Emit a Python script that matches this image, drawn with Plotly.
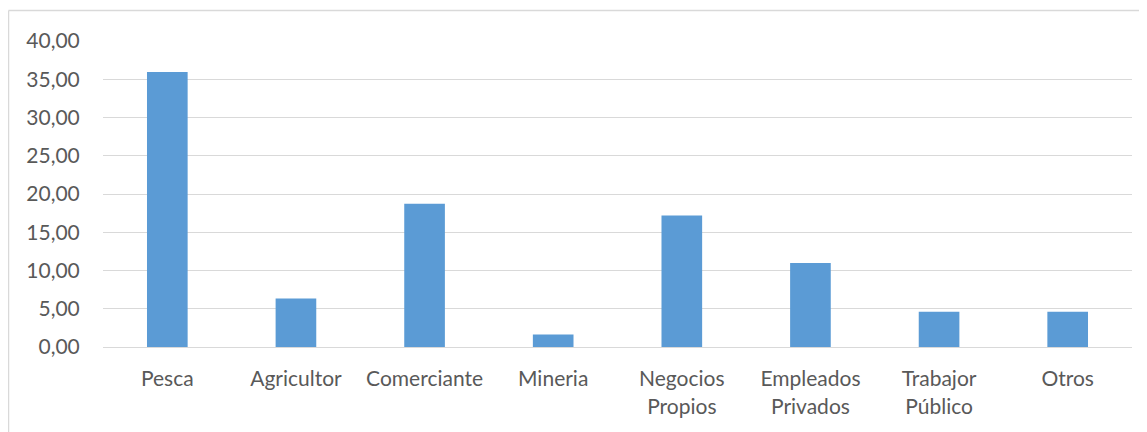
import plotly.graph_objects as go

categories = ["Pesca", "Agricultor", "Comerciante", "Mineria", "Negocios<br>Propios",
              "Empleados<br>Privados", "Trabajor<br>Público", "Otros"]
values = [35.95, 6.33, 18.74, 1.62, 17.2, 10.98, 4.62, 4.62]
y_ticks = [0, 5, 10, 15, 20, 25, 30, 35, 40]
y_tick_labels = ["0,00", "5,00", "10,00", "15,00", "20,00", "25,00", "30,00", "35,00", "40,00"]

# page body has an 8px margin, so the figure is drawn offset by 8px
OFF = 8
W, H = 1147 - OFF, 432 - OFF
L, R, T, B = 103 - OFF, 15, 41 - OFF, 85
pw, ph = W - L - R, H - T - B

fig = go.Figure(go.Bar(x=categories, y=values, marker=dict(color="#5B9BD5", line=dict(width=0))))

bx0 = (0.5 - L) / pw
bx1 = (W - L) / pw
by_top = (H - B - 2.5) / ph
by_bot = (H - B - H) / ph

fig.update_layout(
    width=W, height=H,
    margin=dict(l=L, r=R, t=T, b=B),
    paper_bgcolor="white", plot_bgcolor="white",
    bargap=0.684,
    showlegend=False,
    font=dict(family="Lato, Calibri, sans-serif", size=21, color="#595959"),
    xaxis=dict(showgrid=False, showline=False, zeroline=False,
               ticks="outside", ticklen=13, tickcolor="rgba(0,0,0,0)",
               tickfont=dict(size=21, color="#595959")),
    yaxis=dict(range=[0, 40], tickvals=y_ticks, ticktext=y_tick_labels,
               showgrid=True, gridcolor="#D9D9D9", gridwidth=1.3,
               zeroline=True, zerolinecolor="#D9D9D9", zerolinewidth=1.3,
               showline=False, ticks="outside", ticklen=18, tickcolor="rgba(0,0,0,0)",
               tickfont=dict(size=21, color="#595959")),
    shapes=[
        dict(type="line", xref="paper", yref="paper", x0=bx0, x1=bx1, y0=by_top, y1=by_top,
             line=dict(color="#D9D9D9", width=1.5), layer="below"),
        dict(type="line", xref="paper", yref="paper", x0=bx0, x1=bx0, y0=by_bot, y1=by_top,
             line=dict(color="#D9D9D9", width=1.5), layer="below"),
    ],
)

fig.write_html("out.html")
